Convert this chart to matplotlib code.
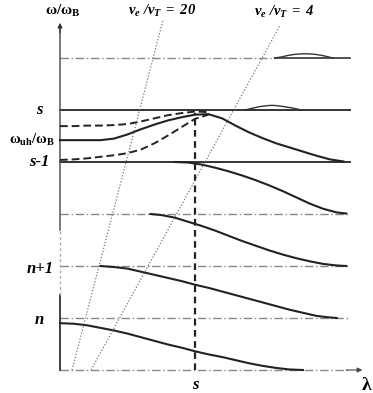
import matplotlib
matplotlib.use("Agg")
import matplotlib.pyplot as plt

# niveles horizontales (omega/omega_B), eje lambda con s en x = 1
niveles_solidos = [5, 4]
niveles_rayapunto = [3, 2, 1, 0]
nivel_superior = 6
x_fin = 2.15
x_flecha = 2.26
y_flecha = 6.73

# curvas (x = lambda, y = omega/omega_B)
curva_uh_x = [0, 0.1, 0.2, 0.3, 0.4, 0.5, 0.6, 0.7, 0.8, 0.9, 1.0, 1.1, 1.2, 1.3,
              1.4, 1.5, 1.6, 1.7, 1.8, 1.9, 2.0, 2.1]
curva_uh_y = [4.42, 4.42, 4.42, 4.42, 4.45, 4.53, 4.63, 4.72, 4.80, 4.86, 4.91, 4.92, 4.84, 4.70,
              4.57, 4.46, 4.36, 4.28, 4.20, 4.12, 4.05, 4.01]

guion_sup_x = [0, 0.1, 0.2, 0.3, 0.4, 0.5, 0.6, 0.7, 0.8, 0.9, 1.0, 1.1]
guion_sup_y = [4.69, 4.69, 4.70, 4.70, 4.71, 4.73, 4.78, 4.84, 4.90, 4.94, 4.97, 4.96]
guion_inf_x = [0, 0.1, 0.2, 0.3, 0.4, 0.5, 0.6, 0.7, 0.8, 0.9, 1.0, 1.1]
guion_inf_y = [4.04, 4.05, 4.07, 4.10, 4.13, 4.17, 4.24, 4.36, 4.51, 4.67, 4.83, 4.91]

banda4_x = [0.85, 0.95, 1.05, 1.15, 1.25, 1.35, 1.45, 1.55, 1.65, 1.75, 1.85, 1.95, 2.05, 2.12]
banda4_y = [4.0, 3.99, 3.95, 3.89, 3.82, 3.74, 3.65, 3.55, 3.44, 3.32, 3.20, 3.10, 3.03, 3.01]
banda3_x = [0.67, 0.75, 0.85, 0.95, 1.05, 1.15, 1.25, 1.35, 1.45, 1.55, 1.65, 1.75, 1.85, 1.95,
            2.05, 2.12]
banda3_y = [3.0, 2.98, 2.93, 2.85, 2.77, 2.68, 2.58, 2.48, 2.39, 2.30, 2.22, 2.15, 2.09, 2.04,
            2.01, 2.0]
banda2_x = [0.3, 0.4, 0.5, 0.6, 0.7, 0.8, 0.9, 1.0, 1.1, 1.2, 1.3, 1.4, 1.5, 1.6, 1.7, 1.8,
            1.9, 2.0, 2.05]
banda2_y = [2.0, 1.98, 1.95, 1.89, 1.83, 1.77, 1.71, 1.64, 1.58, 1.51, 1.44, 1.37, 1.30, 1.23,
            1.16, 1.10, 1.04, 1.01, 1.0]
banda1_x = [0, 0.1, 0.2, 0.3, 0.4, 0.5, 0.6, 0.7, 0.8, 0.9, 1.0, 1.1, 1.2, 1.3, 1.4, 1.5,
            1.6, 1.7, 1.8]
banda1_y = [0.90, 0.89, 0.86, 0.81, 0.76, 0.70, 0.63, 0.56, 0.49, 0.43, 0.36, 0.30, 0.25, 0.19,
            0.13, 0.08, 0.04, 0.01, 0.0]

bulto6_x = [1.59, 1.64, 1.69, 1.74, 1.79, 1.84, 1.89, 1.94, 1.99, 2.02]
bulto6_y = [6.0, 6.02, 6.05, 6.07, 6.08, 6.08, 6.07, 6.05, 6.02, 6.0]
bulto5_x = [1.37, 1.42, 1.47, 1.52, 1.57, 1.62, 1.67, 1.72, 1.77, 1.80]
bulto5_y = [5.0, 5.03, 5.06, 5.08, 5.09, 5.08, 5.06, 5.04, 5.01, 5.0]

# rectas v_e/v_T
recta20_x = [0.089, 0.763]
recta20_y = [0, 6.73]
recta4_x = [0.23, 1.63]
recta4_y = [0, 6.63]

etiquetas_y = {5: "s", 4.42: r"$\mathbf{\omega_{uh}/\omega_B}$", 4: "s-1", 1.95: "n+1", 0.97: "n"}

plt.rcParams["font.family"] = ["Liberation Serif", "DejaVu Serif"]
plt.rcParams["mathtext.fontset"] = "custom"
plt.rcParams["mathtext.it"] = "Liberation Serif:italic"
plt.rcParams["mathtext.rm"] = "Liberation Serif"
plt.rcParams["mathtext.bf"] = "Liberation Serif:bold"
plt.rcParams["mathtext.bfit"] = "Liberation Serif:italic:bold"

fig = plt.figure(figsize=(3.73, 3.93), dpi=100)
ax = fig.add_axes([0, 0, 1, 1])
ax.set_xlim(-60 / 135, 313 / 135)
ax.set_ylim(-23 / 52, 370 / 52)
ax.axis("off")

oscuro = "#222222"
rayapunto = (0, (6, 2, 1, 2))
for nv in niveles_solidos:
    ax.plot([0, x_fin], [nv, nv], color="#333333", lw=1.4)
for nv in niveles_rayapunto:
    ax.plot([0, x_fin], [nv, nv], color="#888888", lw=1.0, ls=rayapunto)
ax.plot([0, 1.59], [nivel_superior] * 2, color="#888888", lw=1.0, ls=rayapunto)
ax.plot([1.59, x_fin], [nivel_superior] * 2, color="#333333", lw=1.2)

# ejes con flechas
ax.annotate("", xy=(x_flecha, 0), xytext=(x_fin - 0.05, 0),
            arrowprops=dict(arrowstyle="-|>", color="#444444", lw=0.8, mutation_scale=7))
ax.plot([0, 0], [0, 1.44], color="#333333", lw=1.3)
ax.plot([0, 0], [1.44, 2.7], color="#aaaaaa", lw=1.0, ls=(0, (2, 2)))
ax.plot([0, 0], [2.7, y_flecha - 0.1], color="#555555", lw=1.1)
ax.annotate("", xy=(0, y_flecha), xytext=(0, y_flecha - 0.3),
            arrowprops=dict(arrowstyle="-|>", color="#333333", lw=0.8, mutation_scale=7))

# curvas
for cx, cy in [(curva_uh_x, curva_uh_y), (banda4_x, banda4_y), (banda3_x, banda3_y),
               (banda2_x, banda2_y), (banda1_x, banda1_y)]:
    ax.plot(cx, cy, color=oscuro, lw=1.5, solid_joinstyle="round")
ax.plot(guion_sup_x, guion_sup_y, color=oscuro, lw=1.4, ls=(0, (4, 2)))
ax.plot(guion_inf_x, guion_inf_y, color=oscuro, lw=1.4, ls=(0, (4, 2)))
ax.plot(bulto6_x, bulto6_y, color="#333333", lw=1.0)
ax.plot(bulto5_x, bulto5_y, color="#333333", lw=1.0)

# linea vertical en lambda = s
ax.plot([1.0, 1.0], [0, 4.95], color=oscuro, lw=1.6, ls=(0, (3, 2)))

# rectas punteadas v_e/v_T
ax.plot(recta20_x, recta20_y, color="#777777", lw=0.9, ls=(0, (1, 1.5)))
ax.plot(recta4_x, recta4_y, color="#777777", lw=0.9, ls=(0, (1, 1.5)))

# textos
for yv, txt in etiquetas_y.items():
    if txt.startswith("$"):
        ax.text(-0.04, yv, txt, ha="right", va="center", fontsize=10.5)
    else:
        ax.text(-0.15, yv, txt, ha="center", va="center", fontsize=12,
                fontweight="bold", fontstyle="italic")
ax.text(0.02, 6.9, r"$\mathbf{\omega/\omega_B}$", ha="center", va="center", fontsize=11)
ax.text(0.76, 6.9, r"$\mathbfit{v_e\ /v_T\ =\ 20}$", ha="center", va="center", fontsize=10.5)
ax.text(1.66, 6.88, r"$\mathbfit{v_e\ /v_T\ =\ 4}$", ha="center", va="center", fontsize=10.5)
ax.text(1.0, -0.29, "s", ha="center", va="center", fontsize=12, fontweight="bold",
        fontstyle="italic")
ax.text(2.27, -0.29, r"$\mathbf{\lambda}$", ha="center", va="center", fontsize=14)

fig.savefig("out.png", dpi=100)
